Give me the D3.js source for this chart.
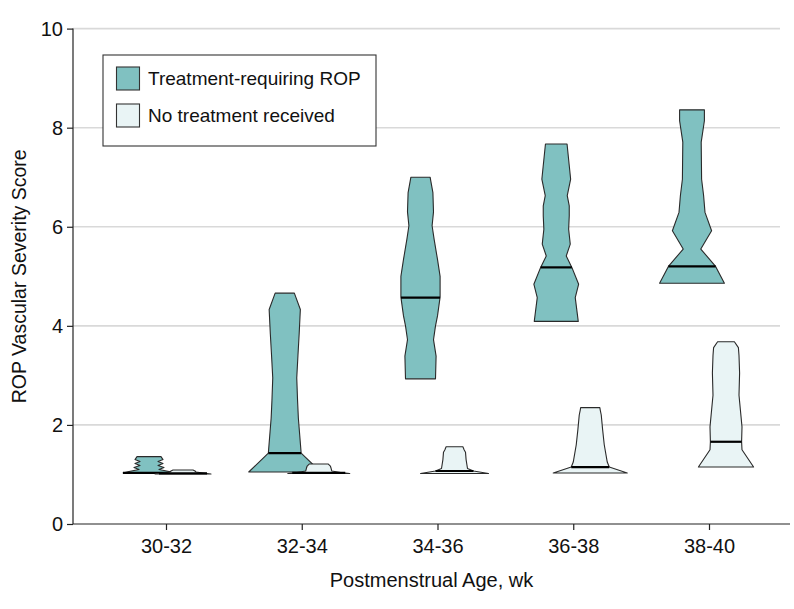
<!DOCTYPE html>
<html>
<head>
<meta charset="utf-8">
<script src="https://cdn.jsdelivr.net/npm/d3@7/dist/d3.min.js"></script>
<style>
  html, body { margin: 0; padding: 0; background: #fff; }
  svg { display: block; }
  text { font-family: "Liberation Sans", "DejaVu Sans", sans-serif; fill: #111; }
</style>
</head>
<body>
<svg id="chart" width="794" height="609"></svg>
<script>
// ---------------- DATA ----------------
const categories = ["30-32", "32-34", "34-36", "36-38", "38-40"];
const seriesNames = ["Treatment-requiring ROP", "No treatment received"];
const yTicks = [0, 2, 4, 6, 8, 10];

// Density profiles: [score, relative density]
const treatedProfiles = [
  [[1.03,6.5],[1.06,5],[1.10,2.5],[1.14,3.75],[1.18,2.25],[1.22,3.5],[1.26,2.25],[1.30,3.5],[1.36,3]],
  [[1.05,9],[1.43,4.1],[2.14,3.4],[2.5,3.2],[2.95,3],[3.4,3.3],[3.83,3.6],[4.33,3.9],[4.66,2.4]],
  [[2.93,3.75],[3.39,3.9],[3.72,3.25],[4.0,3.75],[4.2,4.25],[4.58,4.9],[5.0,4.9],[5.34,4.25],[5.75,3.4],[6.02,2.9],[6.3,3.25],[6.69,3.1],[7.0,2.4]],
  [[4.09,5.5],[4.57,4.75],[4.84,5.6],[5.18,3.9],[5.41,2.5],[5.65,3.5],[5.95,3.1],[6.22,3.25],[6.42,3.25],[6.63,2.75],[6.96,3.6],[7.67,2.7]],
  [[4.86,8.1],[5.2,5.9],[5.55,2.2],[5.92,4.9],[6.29,3.25],[6.63,2.9],[6.96,2.4],[7.71,2.3],[8.14,3.1],[8.36,3.1]]
];
const untreatedProfiles = [
  [[1.01,7],[1.03,5],[1.05,3.25],[1.07,3],[1.09,2.5]],
  [[1.02,7.75],[1.04,5.5],[1.07,3.25],[1.12,3.1],[1.17,2.9],[1.21,2.4]],
  [[1.02,8.5],[1.04,7],[1.07,4.75],[1.12,3.25],[1.3,2.9],[1.45,2.75],[1.5,2.4],[1.56,2.1]],
  [[1.03,9.25],[1.15,4.75],[1.25,4.25],[1.6,3.5],[1.9,3.1],[2.2,2.75],[2.3,2.5],[2.35,2.4]],
  [[1.15,6.9],[1.5,4],[1.66,3.9],[1.96,4],[2.3,3.6],[2.6,3.25],[3.05,3.4],[3.4,3.25],[3.56,3.1],[3.68,2.1]]
];
const treatedMedians = [1.03, 1.43, 4.57, 5.18, 5.2];
const untreatedMedians = [1.02, 1.03, 1.07, 1.15, 1.66];

const colors = ["#80c1c1", "#e9f4f5"];

// ---------------- LAYOUT ----------------
const svg = d3.select("#chart");
const plot = { left: 73, right: 790, top: 28.6, bottom: 524 };

const y = d3.scaleLinear().domain([0, 10]).range([plot.bottom, plot.top]);
const x = d3.scalePoint().domain(categories).range([166, 709]);
const sub = d3.scalePoint().domain(seriesNames).range([-17, 17]);
const w = d3.scaleLinear().domain([0, 10]).range([0, 40]);

// gridlines
svg.append("g").selectAll("line")
  .data(yTicks.filter(d => d > 0))
  .join("line")
  .attr("x1", plot.left).attr("x2", 780)
  .attr("y1", d => y(d)).attr("y2", d => y(d))
  .attr("stroke", "#d9d9d9").attr("stroke-width", 1.6);

// axes
const yAxis = svg.append("g")
  .attr("transform", `translate(${plot.left},0)`)
  .call(d3.axisLeft(y).tickValues(yTicks).tickSize(6).tickPadding(4).tickFormat(d3.format("d")));
yAxis.select(".domain").attr("stroke", "#222").attr("stroke-width", 1.2).attr("d", `M0,${plot.top}V${plot.bottom}`);
yAxis.selectAll(".tick line").attr("stroke", "#222").attr("stroke-width", 1.2);
yAxis.selectAll(".tick text").attr("font-size", 20).attr("fill", "#111")
  .style("font-family", '"Liberation Sans", sans-serif');

const xAxis = svg.append("g")
  .attr("transform", `translate(0,${plot.bottom})`)
  .call(d3.axisBottom(x).tickSize(6).tickPadding(9));
xAxis.select(".domain").attr("stroke", "#222").attr("stroke-width", 1.2).attr("d", `M${plot.left},0H${plot.right}`);
xAxis.selectAll(".tick line").attr("stroke", "#222").attr("stroke-width", 1.2);
xAxis.selectAll(".tick text").attr("font-size", 20).attr("fill", "#111")
  .style("font-family", '"Liberation Sans", sans-serif');

// axis titles
svg.append("text")
  .attr("x", (plot.left + plot.right) / 2).attr("y", 587)
  .attr("text-anchor", "middle").attr("font-size", 20)
  .text("Postmenstrual Age, wk");
svg.append("text")
  .attr("transform", `translate(26,${(plot.top + plot.bottom) / 2}) rotate(-90)`)
  .attr("text-anchor", "middle").attr("font-size", 19.5)
  .text("ROP Vascular Severity Score");

// violins
function halfWidthAt(profile, v) {
  for (let i = 0; i < profile.length - 1; i++) {
    const [a, da] = profile[i], [b, db] = profile[i + 1];
    if (v >= a && v <= b) return da + (db - da) * (v - a) / (b - a);
  }
  return v < profile[0][0] ? profile[0][1] : profile[profile.length - 1][1];
}

const allSeries = [
  { name: seriesNames[0], profiles: treatedProfiles, medians: treatedMedians, color: colors[0] },
  { name: seriesNames[1], profiles: untreatedProfiles, medians: untreatedMedians, color: colors[1] }
];

const gV = svg.append("g");
allSeries.forEach(s => {
  categories.forEach((c, i) => {
    const cx = x(c) + sub(s.name);
    const area = d3.area()
      .x0(d => cx - w(d[1])).x1(d => cx + w(d[1]))
      .y(d => y(d[0]))
      .curve(d3.curveLinear);
    gV.append("path")
      .datum(s.profiles[i])
      .attr("d", area)
      .attr("fill", s.color)
      .attr("stroke", "#2a2a2a").attr("stroke-width", 1.1)
      .attr("stroke-linejoin", "round");
    const m = s.medians[i];
    const hw = w(halfWidthAt(s.profiles[i], m));
    gV.append("line")
      .attr("x1", cx - hw).attr("x2", cx + hw)
      .attr("y1", y(m)).attr("y2", y(m))
      .attr("stroke", "#000").attr("stroke-width", 2.2);
  });
});

// legend
const lg = svg.append("g");
lg.append("rect").attr("x", 103).attr("y", 55).attr("width", 273).attr("height", 91)
  .attr("fill", "#fff").attr("stroke", "#333").attr("stroke-width", 1.1);
seriesNames.forEach((n, i) => {
  const yy = 67 + i * 37;
  lg.append("rect").attr("x", 116.5).attr("y", yy).attr("width", 23).attr("height", 23)
    .attr("fill", colors[i]).attr("stroke", "#333").attr("stroke-width", 1.1);
  lg.append("text").attr("x", 148).attr("y", yy + 18).attr("font-size", 19).text(n);
});
</script>
</body>
</html>
